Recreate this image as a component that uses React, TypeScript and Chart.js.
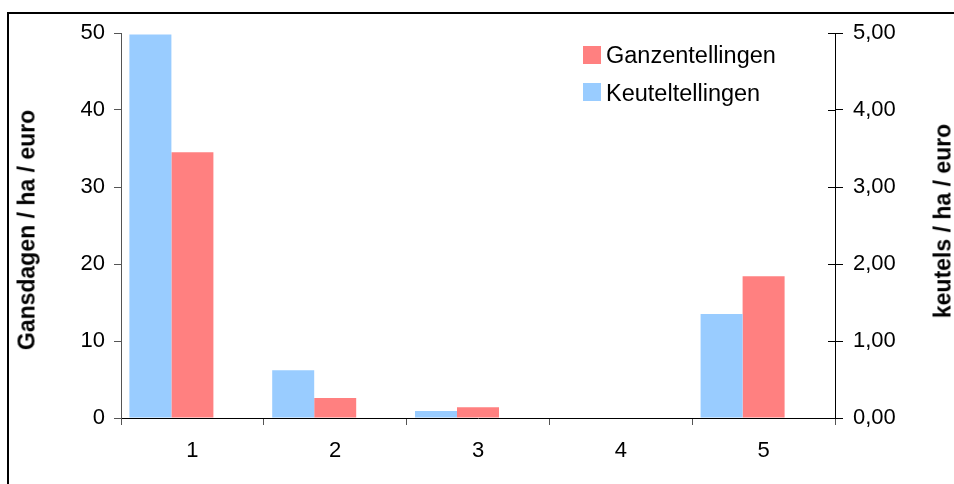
import React, { useEffect, useRef } from "react";
import { Chart, registerables } from "chart.js";

Chart.register(...registerables);

const categories = ["1", "2", "3", "4", "5"];
const keutelValues = [4.98, 0.62, 0.09, 0, 1.35];
const ganzenValues = [34.5, 2.6, 1.4, 0, 18.4];
const seriesNames = ["Ganzentellingen", "Keuteltellingen"];
const leftTitle = "Gansdagen / ha / euro";
const rightTitle = "keutels / ha / euro";

const BLUE = "#99CCFF";
const RED = "#FF8080";
const FONT = "'Liberation Sans', Arial, sans-serif";

const crossTicks = {
  id: "crossTicks",
  afterDraw(chart: any) {
    const s = chart.scales.y2;
    if (!s) return;
    const ctx = chart.ctx;
    ctx.save();
    ctx.strokeStyle = "#000";
    ctx.lineWidth = 1;
    s.ticks.forEach((_t: any, i: number) => {
      const y = Math.round(s.getPixelForTick(i)) + 0.5;
      ctx.beginPath();
      ctx.moveTo(s.left - 7, y);
      ctx.lineTo(s.left, y);
      ctx.stroke();
    });
    ctx.restore();
  },
};

export default function App() {
  const ref = useRef<HTMLCanvasElement>(null);

  useEffect(() => {
    if (!ref.current) return;
    const chart = new Chart(ref.current, {
      type: "bar",
      data: {
        labels: categories,
        datasets: [
          {
            label: seriesNames[1],
            data: keutelValues,
            backgroundColor: BLUE,
            yAxisID: "y2",
            borderWidth: 0,
          },
          {
            label: seriesNames[0],
            data: ganzenValues,
            backgroundColor: RED,
            yAxisID: "y",
            borderWidth: 0,
          },
          {
            label: "",
            data: [],
            backgroundColor: "rgba(0,0,0,0)",
            yAxisID: "y",
            borderWidth: 0,
          },
        ],
      },
      options: {
        responsive: false,
        animation: false,
        events: [],
        datasets: {
          bar: { categoryPercentage: 0.8824, barPercentage: 1 },
        },
        layout: { padding: { top: 33, left: 0, right: 0, bottom: 0 } },
        plugins: {
          legend: { display: false },
          tooltip: { enabled: false },
        },
        scales: {
          x: {
            afterFit: (s: any) => {
              s.height = 66;
            },
            grid: {
              offset: true,
              drawOnChartArea: false,
              drawTicks: true,
              tickLength: 7,
              color: "#555",
            },
            border: { color: "#000", width: 1 },
            ticks: {
              color: "#000",
              padding: 13,
              font: { family: FONT, size: 22 },
            },
          },
          y: {
            position: "left",
            min: 0,
            max: 50,
            afterFit: (s: any) => {
              s.width = 121;
            },
            grid: {
              drawOnChartArea: false,
              tickLength: 7,
              color: "#555",
            },
            border: { color: "#555", width: 1 },
            ticks: {
              stepSize: 10,
              color: "#000",
              padding: 9,
              font: { family: FONT, size: 22 },
            },
          },
          y2: {
            position: "right",
            min: 0,
            max: 5,
            afterFit: (s: any) => {
              s.width = 119;
            },
            grid: {
              drawOnChartArea: false,
              tickLength: 8,
              color: "#000",
            },
            border: { color: "#000", width: 1 },
            ticks: {
              stepSize: 1,
              color: "#000",
              padding: 10,
              font: { family: FONT, size: 22 },
              callback: (v: any) => Number(v).toFixed(2).replace(".", ","),
            },
          },
        },
      },
      plugins: [crossTicks],
    });
    return () => chart.destroy();
  }, []);

  const textStyle: React.CSSProperties = {
    position: "absolute",
    fontFamily: FONT,
    fontSize: 23.5,
    lineHeight: "23px",
    color: "#000",
    whiteSpace: "nowrap",
  };

  return (
    <div
      style={{
        position: "fixed",
        left: 0,
        top: 0,
        width: 954,
        height: 484,
        overflow: "hidden",
        background: "#fff",
      }}
    >
      <div
        style={{
          position: "absolute",
          left: 7,
          top: 12,
          width: 980,
          height: 520,
          border: "2px solid #000",
          boxSizing: "border-box",
        }}
      />
      <canvas
        ref={ref}
        width={954}
        height={484}
        style={{ position: "absolute", left: 0, top: 0, width: 954, height: 484 }}
      />
      <div style={{ position: "absolute", left: 583, top: 46, width: 18, height: 18, background: RED }} />
      <div style={{ ...textStyle, left: 606, top: 44 }}>{seriesNames[0]}</div>
      <div style={{ position: "absolute", left: 583, top: 83, width: 18, height: 18, background: BLUE }} />
      <div style={{ ...textStyle, left: 606, top: 82 }}>{seriesNames[1]}</div>
      <div
        style={{
          ...textStyle,
          fontSize: 23,
          fontWeight: "bold",
          left: 27,
          top: 230,
          transform: "translate(-50%, -50%) rotate(-90deg)",
        }}
      >
        {leftTitle}
      </div>
      <div
        style={{
          ...textStyle,
          fontSize: 23,
          fontWeight: "bold",
          left: 943,
          top: 221,
          transform: "translate(-50%, -50%) rotate(-90deg)",
        }}
      >
        {rightTitle}
      </div>
    </div>
  );
}
